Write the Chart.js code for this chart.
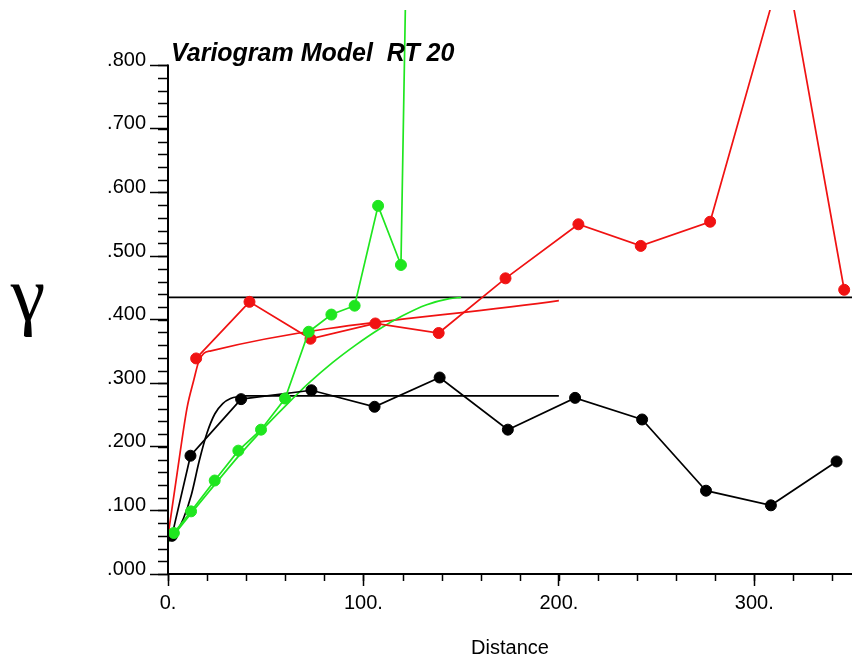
<!DOCTYPE html>
<html>
<head>
<meta charset="utf-8">
<style>
  html, body { margin: 0; padding: 0; background: #ffffff; }
  #wrap { width: 852px; height: 661px; position: relative; }
  canvas { display: block; }
</style>
<script src="https://cdn.jsdelivr.net/npm/chart.js@4.4.1/dist/chart.umd.min.js"></script>
</head>
<body>
<div id="wrap"><canvas id="c" width="852" height="661"></canvas></div>
<script>
// ---- data ----
const chartTitle = 'Variogram Model  RT 20';
const yAxisSymbol = 'γ';
const xAxisTitle = 'Distance';

const xTickLabels = ['0.', '100.', '200.', '300.'];
const yTickLabels = ['.000', '.100', '.200', '.300', '.400', '.500', '.600', '.700', '.800'];

// experimental variogram (black)
const blackLag   = [2, 11.5, 37.4, 73.4, 105.7, 139.0, 173.9, 208.3, 242.6, 275.3, 308.5, 342.1];
const blackGamma = [0.060, 0.186, 0.275, 0.289, 0.263, 0.309, 0.227, 0.277, 0.243, 0.131, 0.108, 0.177];

// experimental variogram (red)
const redLag   = [14.4, 41.7, 72.9, 106.1, 138.5, 172.7, 210.0, 241.9, 277.4, 315.6, 346.0];
const redGamma = [0.339, 0.428, 0.370, 0.394, 0.379, 0.465, 0.550, 0.516, 0.554, 0.969, 0.447];

// experimental variogram (green)
const greenLag   = [3.0, 11.8, 23.9, 36.0, 47.6, 59.9, 72.0, 83.6, 95.5, 107.5, 119.2, 131.0];
const greenGamma = [0.0645, 0.0985, 0.147, 0.194, 0.227, 0.276, 0.381, 0.408, 0.422, 0.579, 0.486, 2.60];

// fitted models
const blackModelX = [0, 4, 8, 12, 16, 20, 24, 28, 32, 36, 40, 200];
const blackModelY = [0.055, 0.065, 0.088, 0.125, 0.178, 0.222, 0.252, 0.268, 0.276, 0.279, 0.280, 0.280];

const redModelX = [0, 4.7, 9.8, 13.2, 15.8, 18.3, 22, 200];
const redModelY = [0.060, 0.159, 0.262, 0.305, 0.335, 0.347, 0.351, 0.430];

const greenModelX = [0, 12, 24, 36, 48, 60, 72, 84, 96, 108, 120, 132, 144, 150];
const greenModelY = [0.050, 0.096, 0.141, 0.185, 0.226, 0.264, 0.300, 0.332, 0.360, 0.385, 0.406, 0.423, 0.433, 0.435];

// sill line
const sillX = [0, 350];
const sillY = [0.435, 0.435];

// axis ranges / steps
const xMin = 0, xMax = 350, xMajor = 100, xMinor = 20;
const yMin = 0, yMax = 0.887, yMajor = 0.1, yMinor = 0.02, yAxisTop = 0.8;

// ---- helpers ----
const pts = (xs, ys) => xs.map((x, i) => ({ x: x, y: ys[i] }));
const BLACK = '#000000';
const RED = '#f01212';
const GREEN = '#1fe61f';
const FONT = '"Liberation Sans", Arial, Helvetica, sans-serif';

function dataSet(xs, ys, color) {
  return {
    data: pts(xs, ys), showLine: true, borderColor: color, backgroundColor: color,
    borderWidth: 1.7, pointRadius: 5.5, pointBorderWidth: 1, pointBorderColor: color,
    pointBackgroundColor: color, tension: 0
  };
}
function modelSet(xs, ys, color, width) {
  return {
    data: pts(xs, ys), showLine: true, borderColor: color, backgroundColor: color,
    borderWidth: width || 1.7, pointRadius: 0, cubicInterpolationMode: 'monotone'
  };
}
function noPad(scale) {
  scale.paddingTop = 0; scale.paddingBottom = 0;
  scale.paddingLeft = 0; scale.paddingRight = 0;
}

const decorPlugin = {
  id: 'decor',
  afterDraw(chart) {
    const ctx = chart.ctx;
    const xs = chart.scales.x, ys = chart.scales.y;
    const area = chart.chartArea;
    ctx.save();
    ctx.strokeStyle = BLACK;
    // y axis line (stops at the top labelled tick)
    ctx.lineWidth = 2;
    ctx.beginPath();
    ctx.moveTo(area.left, ys.getPixelForValue(yMin) + 1);
    ctx.lineTo(area.left, Math.round(ys.getPixelForValue(yAxisTop)) - 0.5);
    ctx.stroke();
    ctx.lineWidth = 1.5;
    // minor ticks on y axis
    for (let k = 0; yMin + k * yMinor <= yAxisTop + 1e-9; k++) {
      const v = yMin + k * yMinor;
      const py = Math.round(ys.getPixelForValue(v)) + 0.5;
      ctx.beginPath();
      ctx.moveTo(area.left - 10, py);
      ctx.lineTo(area.left, py);
      ctx.stroke();
    }
    // minor ticks on x axis
    for (let k = 0; xMin + k * xMinor <= xMax + 1e-9; k++) {
      const v = xMin + k * xMinor;
      const px = Math.round(xs.getPixelForValue(v)) + 0.5;
      ctx.beginPath();
      ctx.moveTo(px, area.bottom);
      ctx.lineTo(px, area.bottom + 7);
      ctx.stroke();
    }
    // chart title
    ctx.fillStyle = BLACK;
    ctx.textAlign = 'left';
    ctx.textBaseline = 'alphabetic';
    ctx.font = 'italic bold 25px ' + FONT;
    ctx.fillText(chartTitle, 171, 61);
    // y axis symbol
    ctx.font = '78px "Liberation Serif", "DejaVu Serif", serif';
    ctx.textAlign = 'center';
    ctx.fillText(yAxisSymbol, 28, 320);
    ctx.restore();
  }
};

new Chart(document.getElementById('c'), {
  type: 'scatter',
  data: {
    datasets: [
      dataSet(greenLag, greenGamma, GREEN),
      dataSet(redLag, redGamma, RED),
      dataSet(blackLag, blackGamma, BLACK),
      modelSet(greenModelX, greenModelY, GREEN),
      modelSet(redModelX, redModelY, RED),
      modelSet(blackModelX, blackModelY, BLACK),
      modelSet(sillX, sillY, BLACK, 1.8)
    ]
  },
  options: {
    responsive: false,
    animation: false,
    devicePixelRatio: 1,
    layout: { autoPadding: false, padding: { top: 10, right: 0, left: 0, bottom: 0 } },
    plugins: { legend: { display: false }, tooltip: { enabled: false }, title: { display: false } },
    scales: {
      x: {
        type: 'linear', min: xMin, max: xMax,
        afterFit(scale) { scale.height = 87; noPad(scale); },
        border: { display: true, color: BLACK, width: 2 },
        grid: { drawOnChartArea: false, drawTicks: true, tickLength: 12, color: BLACK, tickWidth: 1.5 },
        ticks: {
          stepSize: xMajor, includeBounds: false, maxRotation: 0, autoSkip: false,
          color: BLACK, padding: 5, font: { family: FONT, size: 20 },
          callback: (v) => xTickLabels[Math.round((v - xMin) / xMajor)]
        },
        title: { display: true, text: xAxisTitle, color: BLACK, font: { family: FONT, size: 20 }, padding: { top: 0, bottom: 1 } }
      },
      y: {
        type: 'linear', min: yMin, max: yMax,
        afterFit(scale) { scale.width = 168; noPad(scale); },
        border: { display: false },
        grid: { drawOnChartArea: false, drawTicks: true, tickLength: 18, color: BLACK, tickWidth: 1.5 },
        ticks: {
          stepSize: yMajor, includeBounds: false, autoSkip: false,
          color: BLACK, padding: 4, labelOffset: -5, font: { family: FONT, size: 20 },
          callback: (v) => yTickLabels[Math.round((v - yMin) / yMajor)]
        }
      }
    }
  },
  plugins: [decorPlugin]
});
</script>
</body>
</html>
